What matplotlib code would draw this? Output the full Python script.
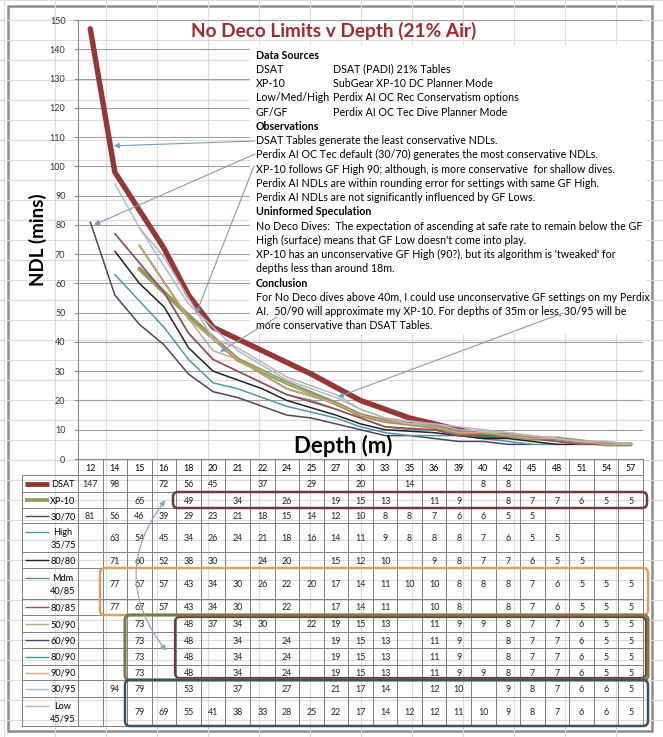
import numpy as np
import pandas as pd
import matplotlib
matplotlib.use('Agg')
from matplotlib import pyplot as plt
from matplotlib.patches import Rectangle, FancyBboxPatch, FancyArrowPatch

plt.rcParams['font.family'] = ['Lato', 'DejaVu Sans']

#%% data
N = np.nan
depths = [12, 14, 15, 16, 18, 20, 21, 22, 24, 25, 27, 30, 33, 35, 36, 39, 40, 42, 45, 48, 51, 54, 57]

dsat      = [147, 98, N, 72, 56, 45, N, 37, N, 29, N, 20, N, 14, N, N, 8, 8, N, N, N, N, N]
xp10      = [N, N, 65, N, 49, N, 34, N, 26, N, 19, 15, 13, N, 11, 9, N, 8, 7, 7, 6, 5, 5]
gf30_70   = [81, 56, 46, 39, 29, 23, 21, 18, 15, 14, 12, 10, 8, 8, 7, 6, 6, 5, 5, N, N, N, N]
high35_75 = [N, 63, 54, 45, 34, 26, 24, 21, 18, 16, 14, 11, 9, 8, 8, 8, 7, 6, 5, 5, N, N, N]
gf80_80   = [N, 71, 60, 52, 38, 30, N, 24, 20, N, 15, 12, 10, N, 9, 8, 7, 7, 6, 5, 5, N, N]
mdm40_85  = [N, 77, 67, 57, 43, 34, 30, 26, 22, 20, 17, 14, 11, 10, 10, 8, 8, 8, 7, 6, 5, 5, 5]
gf80_85   = [N, 77, 67, 57, 43, 34, 30, N, 22, N, 17, 14, 11, N, 10, 8, N, 8, 7, 6, 5, 5, 5]
gf50_90   = [N, N, 73, N, 48, 37, 34, 30, N, 22, 19, 15, 13, N, 11, 9, 9, 8, 7, 7, 6, 5, 5]
gf60_90   = [N, N, 73, N, 48, N, 34, N, 24, N, 19, 15, 13, N, 11, 9, N, 8, 7, 7, 6, 5, 5]
gf80_90   = [N, N, 73, N, 48, N, 34, N, 24, N, 19, 15, 13, N, 11, 9, N, 8, 7, 7, 6, 5, 5]
gf90_90   = [N, N, 73, N, 48, N, 34, N, 24, N, 19, 15, 13, N, 11, 9, 9, 8, 7, 7, 6, 5, 5]
gf30_95   = [N, 94, 79, N, 53, N, 37, N, 27, N, 21, 17, 14, N, 12, 10, N, 9, 8, 7, 6, 6, 5]
low45_95  = [N, N, 79, 69, 55, 41, 38, 33, 28, 25, 22, 17, 14, 12, 12, 11, 10, 9, 8, 7, 6, 6, 5]

labels = ['DSAT', 'XP-10', '30/70', 'High\n35/75', '80/80', 'Mdm\n40/85', '80/85',
          '50/90', '60/90', '80/90', '90/90', '30/95', 'Low\n45/95']
series = [dsat, xp10, gf30_70, high35_75, gf80_80, mdm40_85, gf80_85,
          gf50_90, gf60_90, gf80_90, gf90_90, gf30_95, low45_95]
colors = ['#953735', '#8F9C5C', '#4D4660', '#4E97AD', '#222222', '#5E8C8C', '#A34A55',
          '#B0B08A', '#4A4A68', '#3F9A9A', '#E3A467', '#A7BDD6', '#C9AEB4']
widths = [3.9, 3.0] + [1.1] * 11

notes = [
    ('Data Sources', '', True),
    ('DSAT', 'DSAT (PADI) 21% Tables', False),
    ('XP-10', 'SubGear XP-10 DC Planner Mode', False),
    ('Low/Med/High', 'Perdix AI OC Rec Conservatism options', False),
    ('GF/GF', 'Perdix AI OC Tec Dive Planner Mode', False),
    ('Observations', '', True),
    ('DSAT Tables generate the least conservative NDLs.', '', False),
    ('Perdix AI OC Tec default (30/70) generates the most conservative NDLs.', '', False),
    ('XP-10 follows GF High 90; although, is more conservative  for shallow dives.', '', False),
    ('Perdix AI NDLs are within rounding error for settings with same GF High.', '', False),
    ('Perdix AI NDLs are not significantly influenced by GF Lows.', '', False),
    ('Uninformed Speculation', '', True),
    ('No Deco Dives:  The expectation of ascending at safe rate to remain below the GF', '', False),
    ("High (surface) means that GF Low doesn't come into play.", '', False),
    ("XP-10 has an unconservative GF High (90?), but its algorithm is 'tweaked' for", '', False),
    ('depths less than around 18m.', '', False),
    ('Conclusion', '', True),
    ('For No Deco dives above 40m, I could use unconservative GF settings on my Perdix', '', False),
    ('AI.  50/90 will approximate my XP-10. For depths of 35m or less, 30/95 will be', '', False),
    ('more conservative than DSAT Tables.', '', False),
]

#%% layout (pixels)
W, H = 663, 737
X0, X1, YT, YB = 78, 643, 20, 459
row_edges = [475, 492, 508, 523, 552, 568, 599, 615, 632, 648, 665, 680, 697, 726]
cw = (X1 - X0) / len(depths)

def cx(i):
    return X0 + (i + 0.5) * cw

fig = plt.figure(figsize=(W / 100, H / 100), dpi=100)

# background: spreadsheet cells + chart area
bg = fig.add_axes([0, 0, 1, 1])
bg.set_xlim(0, W)
bg.set_ylim(H, 0)
bg.axis('off')
for x in range(4, W, 51):
    bg.axvline(x, color='#DCDCDC', lw=0.8)
for y in range(0, H, 20):
    bg.axhline(y, color='#DCDCDC', lw=0.8)
bg.add_patch(Rectangle((8, 6), 644, 725, facecolor='white', edgecolor='#8C8C8C', lw=1.8))

#%% chart
ax = fig.add_axes([X0 / W, 1 - YB / H, (X1 - X0) / W, (YB - YT) / H])
ax.patch.set_alpha(0)
ax.set_xlim(-0.5, len(depths) - 0.5)
ax.set_ylim(0, 150)
ax.set_yticks(range(0, 151, 10))
ax.set_xticks([])
ax.yaxis.grid(True, color='#A0A0A0', lw=0.8)
ax.set_axisbelow(True)
for side in ['top', 'right']:
    ax.spines[side].set_visible(False)
ax.spines['left'].set_color('#8C8C8C')
ax.spines['bottom'].set_color('#8C8C8C')
ax.tick_params(axis='y', labelsize=6.5, labelcolor='#333333', color='#8C8C8C', length=3, pad=6)

xs = np.arange(len(depths))
for vals, c, lw in zip(series, colors, widths):
    s = pd.Series(vals, dtype=float)
    m = s.notna().values
    ax.plot(xs[m], s.values[m], color=c, lw=lw, solid_joinstyle='round', solid_capstyle='round')

#%% overlay: text, table, arrows
ov = fig.add_axes([0, 0, 1, 1])
ov.set_xlim(0, W)
ov.set_ylim(H, 0)
ov.axis('off')
ov.patch.set_alpha(0)

ov.text(334, 31, 'No Deco Limits v Depth (21% Air)', color='#A32A2E', fontsize=13.7,
        fontweight='bold', ha='center', va='center')
ov.text(38, 240, 'NDL (mins)', fontsize=13.5, fontweight='bold', rotation=90, ha='center', va='center')
ov.text(343, 446, 'Depth (m)', fontsize=16, fontweight='bold', ha='center', va='center')

# notes box
ov.add_patch(Rectangle((250, 45), 396, 289, facecolor='white', edgecolor='none', zorder=1))
for k, (t1, t2, bold) in enumerate(notes):
    y = 55 + k * 14.26
    ov.text(256, y, t1, fontsize=7.65, fontweight='bold' if bold else 'normal',
            ha='left', va='center', zorder=2)
    if t2:
        ov.text(333, y, t2, fontsize=7.65, ha='left', va='center', zorder=2)

# table grid
gcol = '#808080'
for k in range(len(depths) + 1):
    ov.plot([X0 + k * cw] * 2, [YB, row_edges[-1]], color=gcol, lw=0.7)
ov.plot([22, 22], [row_edges[0], row_edges[-1]], color=gcol, lw=0.7)
for y in row_edges:
    ov.plot([22, X1], [y, y], color=gcol, lw=0.7)

for i, d in enumerate(depths):
    ov.text(cx(i), (YB + row_edges[0]) / 2 + 1, str(d), fontsize=6.4, ha='center', va='center')

for r, (lab, vals, c, lw) in enumerate(zip(labels, series, colors, widths)):
    ymid = (row_edges[r] + row_edges[r + 1]) / 2
    two = '\n' in lab
    ov.text(63, ymid + 1, lab, fontsize=6.6, ha='center', va='center', linespacing=1.5)
    ysw = ymid - 6 if two else ymid
    ov.plot([25, 49], [ysw, ysw], color=c, lw=lw * 0.9, solid_capstyle='butt')
    for i, v in enumerate(vals):
        if not np.isnan(v):
            ov.text(cx(i), ymid + 1, '%d' % v, fontsize=6.4, ha='center', va='center', color='#222222')

def box(x0, y0, x1, y1, color, lw):
    ov.add_patch(FancyBboxPatch((x0, y0), x1 - x0, y1 - y0,
                                boxstyle='round,pad=0,rounding_size=5',
                                facecolor='none', edgecolor=color, lw=lw, zorder=3))

box(173, 492, 647, 508, '#6E3B3E', 1.8)
box(100, 568, 648, 615, '#DDA063', 1.8)
box(175, 617, 646, 678, '#6E3B3E', 1.6)
box(125, 615, 648, 680, '#7D7A45', 2.2)
box(125, 680, 648, 726, '#3D5265', 1.8)

# arrows
acol = '#7F9DBB'
aprops = dict(arrowstyle='-|>', color=acol, lw=0.8, shrinkA=0, shrinkB=0, mutation_scale=8)
ov.annotate('', xy=(0.95, 107), xycoords=ax.transData, xytext=(255, 141), textcoords='data',
            arrowprops=aprops, zorder=4)
ov.annotate('', xy=(0.15, 80), xycoords=ax.transData, xytext=(255, 154), textcoords='data',
            arrowprops=aprops, zorder=4)
ov.annotate('', xy=(4.3, 49.5), xycoords=ax.transData, xytext=(254, 166), textcoords='data',
            arrowprops=aprops, zorder=4)
ov.annotate('', xy=(5.28, 36.6), xycoords=ax.transData, xytext=(277, 317), textcoords='data',
            arrowprops=aprops, zorder=4)
ov.annotate('', xy=(10.08, 21.2), xycoords=ax.transData, xytext=(563, 313), textcoords='data',
            arrowprops=aprops, zorder=4)
ov.add_patch(FancyArrowPatch((167, 498), (168, 653), arrowstyle='<|-|>', mutation_scale=8,
                             connectionstyle='arc3,rad=0.4', color='#8BA6BF', lw=0.9, zorder=4))

fig.savefig('out.png', dpi=100)
